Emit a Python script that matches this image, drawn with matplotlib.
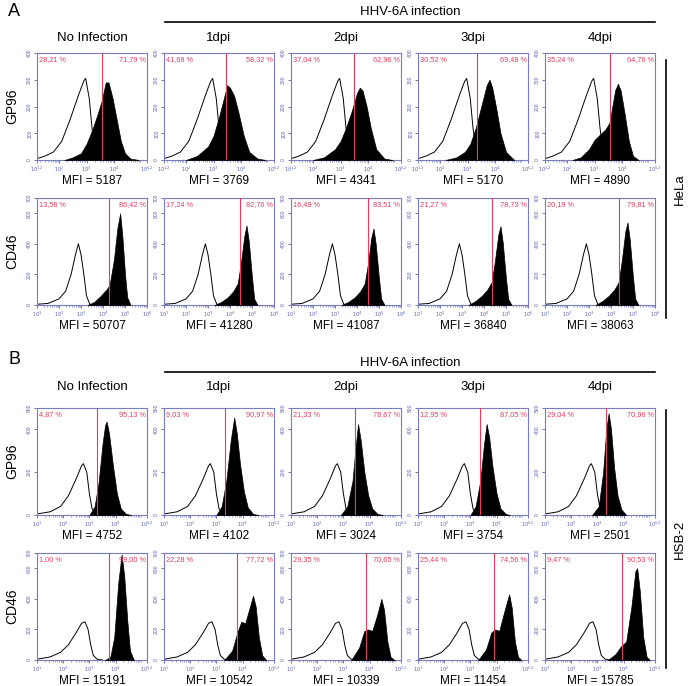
import matplotlib
matplotlib.use("Agg")
import matplotlib.pyplot as plt
import numpy as np

plt.rcParams['font.family'] = ['Liberation Sans', 'DejaVu Sans']

W, H = 689, 686

# ---------------- data ----------------
columns = ["No Infection", "1dpi", "2dpi", "3dpi", "4dpi"]
row_markers = ["GP96", "CD46", "GP96", "CD46"]
cell_lines = ["HeLa", "HSB-2"]

# x limits (log10) and y limits / ticks per row
row_xlim = [(1.2, 5.2), (1.0, 6.0), (1.0, 5.2), (1.0, 5.2)]
row_xticks = [[1.2, 2, 3, 4, 5.2], [1, 2, 3, 4, 5, 6], [1, 2, 3, 4, 5.2], [1, 2, 3, 4, 5.2]]
row_ylim = [400, 700, 500, 700]
row_yticks = [[0, 100, 200, 300, 400], [0, 200, 400, 600, 700], [0, 200, 400, 500], [0, 200, 400, 600, 700]]

# MFI values per row / column
mfi = [
    [5187, 3769, 4341, 5170, 4890],
    [50707, 41280, 41087, 36840, 38063],
    [4752, 4102, 3024, 3754, 2501],
    [15191, 10542, 10339, 11454, 15785],
]
# gate percentages (left, right)
pct_left = [
    ["28,21", "41,68", "37,04", "30,52", "35,24"],
    ["13,58", "17,24", "16,49", "21,27", "20,19"],
    ["4,87", "9,03", "21,33", "12,95", "29,04"],
    ["1,00", "22,28", "29,35", "25,44", "9,47"],
]
pct_right = [
    ["71,79", "58,32", "62,96", "69,48", "64,76"],
    ["86,42", "82,76", "83,51", "78,73", "79,81"],
    ["95,13", "90,97", "78,67", "87,05", "70,96"],
    ["99,00", "77,72", "70,65", "74,56", "90,53"],
]
# gate position (log10 fluorescence)
gate = [
    [3.55, 3.45, 3.50, 3.35, 3.57],
    [4.29, 4.45, 4.50, 4.35, 4.35],
    [3.28, 3.33, 3.44, 3.37, 3.33],
    [3.75, 3.80, 3.85, 3.90, 3.95],
]

# histogram outlines: (log10 fluorescence, events)
open_A1 = [(1.2, 5), (1.5, 15), (1.8, 30), (2.1, 70), (2.4, 150), (2.7, 240), (2.9, 295), (2.97, 305),
           (3.1, 230), (3.2, 120), (3.3, 40), (3.45, 5), (3.7, 0)]
open_A2 = [(1.0, 5), (1.5, 10), (2.0, 40), (2.3, 90), (2.55, 200), (2.75, 330), (2.88, 400), (3.0, 330),
           (3.13, 200), (3.25, 60), (3.4, 5), (3.6, 0)]
open_B1 = [(1.0, 5), (1.5, 15), (1.9, 40), (2.2, 90), (2.5, 170), (2.7, 230), (2.77, 240), (2.9, 200),
           (3.0, 100), (3.1, 30), (3.25, 5), (3.5, 0)]
open_B2 = [(1.0, 5), (1.5, 20), (1.9, 50), (2.2, 100), (2.5, 180), (2.7, 240), (2.83, 250), (2.95, 200),
           (3.05, 100), (3.15, 30), (3.3, 5), (3.5, 0)]

open_curves = [
    [open_A1, open_A1, open_A1, open_A1, open_A1],
    [open_A2, open_A2, open_A2, open_A2, open_A2],
    [open_B1, open_B1, open_B1, open_B1, open_B1],
    [open_B2, open_B2, open_B2, open_B2, open_B2],
]

filled_curves = [
    [
        [(2.2, 0), (2.5, 10), (2.8, 25), (3.0, 60), (3.2, 110), (3.4, 170), (3.55, 220), (3.7, 290), (3.8, 290),
         (3.95, 230), (4.1, 150), (4.25, 70), (4.4, 25), (4.6, 5), (4.9, 0)],
        [(2.0, 0), (2.4, 15), (2.8, 50), (3.0, 90), (3.2, 160), (3.4, 240), (3.5, 280), (3.6, 270), (3.75, 240),
         (3.9, 180), (4.1, 90), (4.3, 30), (4.6, 5), (4.9, 0)],
        [(2.0, 0), (2.4, 10), (2.8, 40), (3.0, 70), (3.2, 120), (3.4, 180), (3.6, 250), (3.7, 270), (3.8, 260),
         (3.95, 200), (4.1, 120), (4.3, 40), (4.6, 5), (4.9, 0)],
        [(2.2, 0), (2.6, 10), (2.9, 30), (3.1, 60), (3.3, 120), (3.5, 200), (3.7, 280), (3.8, 300), (3.9, 270),
         (4.05, 190), (4.2, 100), (4.4, 30), (4.7, 0)],
        [(2.2, 0), (2.5, 10), (2.8, 40), (3.0, 75), (3.2, 95), (3.4, 115), (3.55, 140), (3.65, 200), (3.75, 260),
         (3.85, 285), (3.95, 260), (4.1, 170), (4.25, 70), (4.4, 15), (4.6, 0)],
    ],
    [
        [(3.3, 0), (3.6, 20), (3.9, 60), (4.15, 100), (4.3, 130), (4.5, 300), (4.65, 500), (4.78, 600), (4.88, 450),
         (5.0, 200), (5.1, 50), (5.25, 0)],
        [(3.3, 0), (3.6, 20), (3.9, 50), (4.15, 90), (4.35, 140), (4.5, 280), (4.65, 450), (4.75, 520), (4.85, 420),
         (5.0, 180), (5.1, 40), (5.25, 0)],
        [(3.3, 0), (3.6, 20), (3.9, 50), (4.15, 90), (4.35, 140), (4.5, 270), (4.65, 440), (4.75, 500), (4.85, 400),
         (5.0, 170), (5.1, 40), (5.25, 0)],
        [(3.3, 0), (3.6, 25), (3.9, 60), (4.15, 100), (4.35, 150), (4.5, 290), (4.65, 460), (4.75, 515), (4.85, 410),
         (5.0, 170), (5.1, 40), (5.25, 0)],
        [(3.3, 0), (3.6, 25), (3.9, 60), (4.15, 100), (4.35, 150), (4.5, 300), (4.65, 480), (4.75, 540), (4.85, 430),
         (5.0, 180), (5.1, 40), (5.25, 0)],
    ],
    [
        [(3.0, 0), (3.2, 40), (3.35, 150), (3.5, 330), (3.6, 420), (3.66, 436), (3.75, 380), (3.9, 230), (4.05, 100),
         (4.2, 30), (4.4, 5), (4.6, 0)],
        [(3.0, 0), (3.2, 40), (3.38, 160), (3.55, 350), (3.68, 455), (3.78, 380), (3.9, 240), (4.05, 110),
         (4.2, 35), (4.4, 5), (4.6, 0)],
        [(2.9, 0), (3.15, 40), (3.35, 160), (3.47, 320), (3.56, 425), (3.66, 350), (3.8, 200), (3.95, 90),
         (4.1, 30), (4.3, 5), (4.5, 0)],
        [(3.0, 0), (3.2, 40), (3.38, 160), (3.52, 330), (3.62, 425), (3.72, 360), (3.85, 220), (4.0, 100),
         (4.15, 30), (4.35, 5), (4.5, 0)],
        [(2.8, 0), (3.05, 40), (3.22, 200), (3.34, 400), (3.43, 475), (3.52, 400), (3.64, 220), (3.77, 90),
         (3.92, 25), (4.1, 0)],
    ],
    [
        [(3.6, 0), (3.8, 20), (3.95, 150), (4.1, 500), (4.23, 690), (4.33, 550), (4.45, 250), (4.55, 60), (4.7, 0)],
        [(3.3, 0), (3.6, 60), (3.8, 180), (3.95, 250), (4.1, 240), (4.25, 330), (4.4, 420), (4.5, 350), (4.62, 150),
         (4.75, 30), (4.9, 0)],
        [(3.3, 0), (3.6, 80), (3.8, 190), (3.95, 200), (4.1, 190), (4.3, 300), (4.45, 400), (4.55, 330),
         (4.68, 120), (4.8, 20), (4.95, 0)],
        [(3.3, 0), (3.6, 70), (3.8, 180), (3.95, 200), (4.1, 190), (4.3, 320), (4.48, 430), (4.58, 340),
         (4.7, 120), (4.82, 20), (4.95, 0)],
        [(3.4, 0), (3.7, 40), (3.9, 90), (4.1, 120), (4.3, 350), (4.45, 580), (4.52, 600), (4.62, 450), (4.75, 150),
         (4.88, 20), (5.0, 0)],
    ],
]

# ---------------- layout ----------------
col_left = [37, 164, 291, 418, 545]
ax_w, ax_h = 110, 107
row_top = [53, 198, 408, 553]

frame_c = "#7a7cc0"
tick_c = "#5c5fb0"
red_c = "#e0405e"

fig = plt.figure(figsize=(W / 100, H / 100), dpi=100)


def fx(x):
    return x / W


def fy(y):
    return 1 - y / H


for r in range(4):
    for c in range(5):
        L, T = col_left[c], row_top[r]
        ax = fig.add_axes([fx(L), fy(T + ax_h), ax_w / W, ax_h / H])
        x0, x1 = row_xlim[r]
        ax.set_xscale("log")
        ax.set_xlim(10 ** x0, 10 ** x1)
        ax.set_ylim(0, row_ylim[r])

        oc = np.array(open_curves[r][c], dtype=float)
        fc = np.array(filled_curves[r][c], dtype=float)
        ax.plot(10 ** oc[:, 0], oc[:, 1], color="black", lw=0.7, zorder=2)
        ax.fill_between(10 ** fc[:, 0], fc[:, 1], 0, color="black", lw=0.5, zorder=3)
        ax.axvline(10 ** gate[r][c], color=red_c, lw=0.8, zorder=4)

        ax.text(0.02, 0.97, pct_left[r][c] + " %", transform=ax.transAxes, color=red_c,
                fontsize=5.3, ha="left", va="top", zorder=5)
        ax.text(0.99, 0.97, pct_right[r][c] + " %", transform=ax.transAxes, color=red_c,
                fontsize=5.3, ha="right", va="top", zorder=5)

        for s in ax.spines.values():
            s.set_color(frame_c)
            s.set_linewidth(0.8)
        xt = row_xticks[r]
        ax.set_xticks([10 ** v for v in xt])
        ax.set_xticklabels([r"$10^{%s}$" % (("%g" % v)) for v in xt])
        ax.set_yticks(row_yticks[r])
        ax.set_yticklabels([str(v) for v in row_yticks[r]], rotation=90, va="center")
        ax.tick_params(axis="both", colors=tick_c, labelsize=3.6, length=2.5, width=0.6, pad=1)
        ax.tick_params(axis="x", which="minor", colors=tick_c, length=1.5, width=0.4)
        ax.tick_params(axis="y", which="minor", length=0)

        fig.text(fx(L + ax_w / 2), fy(T + ax_h + 21), "MFI = %d" % mfi[r][c], ha="center", va="center",
                 fontsize=8.5)

# column titles and headers
title_y = [38, 387]
header_y = [12, 363]
line_y = [22, 372]
letter_y = [12, 360]
for p in range(2):
    for c in range(5):
        fig.text(fx(col_left[c] + ax_w / 2), fy(title_y[p]), columns[c], ha="center", va="center", fontsize=9.5)
    fig.text(fx(410), fy(header_y[p]), "HHV-6A infection", ha="center", va="center", fontsize=9.5)
    fig.add_artist(plt.Line2D([fx(165), fx(655)], [fy(line_y[p]), fy(line_y[p])], color="black", lw=1.2))
    fig.text(fx(8), fy(letter_y[p]), "AB"[p], ha="left", va="center", fontsize=13)

# row labels
for r in range(4):
    fig.text(fx(12), fy(row_top[r] + ax_h / 2), row_markers[r], rotation=90, ha="center", va="center",
             fontsize=10)

# cell line brackets
bracket = [(60, 318), (410, 668)]
for p in range(2):
    y0, y1 = bracket[p]
    fig.add_artist(plt.Line2D([fx(666), fx(666)], [fy(y0), fy(y1)], color="black", lw=1.2))
    fig.text(fx(680), fy((y0 + y1) / 2), cell_lines[p], rotation=90, ha="center", va="center", fontsize=9.5)

fig.savefig("out.png", dpi=100)
